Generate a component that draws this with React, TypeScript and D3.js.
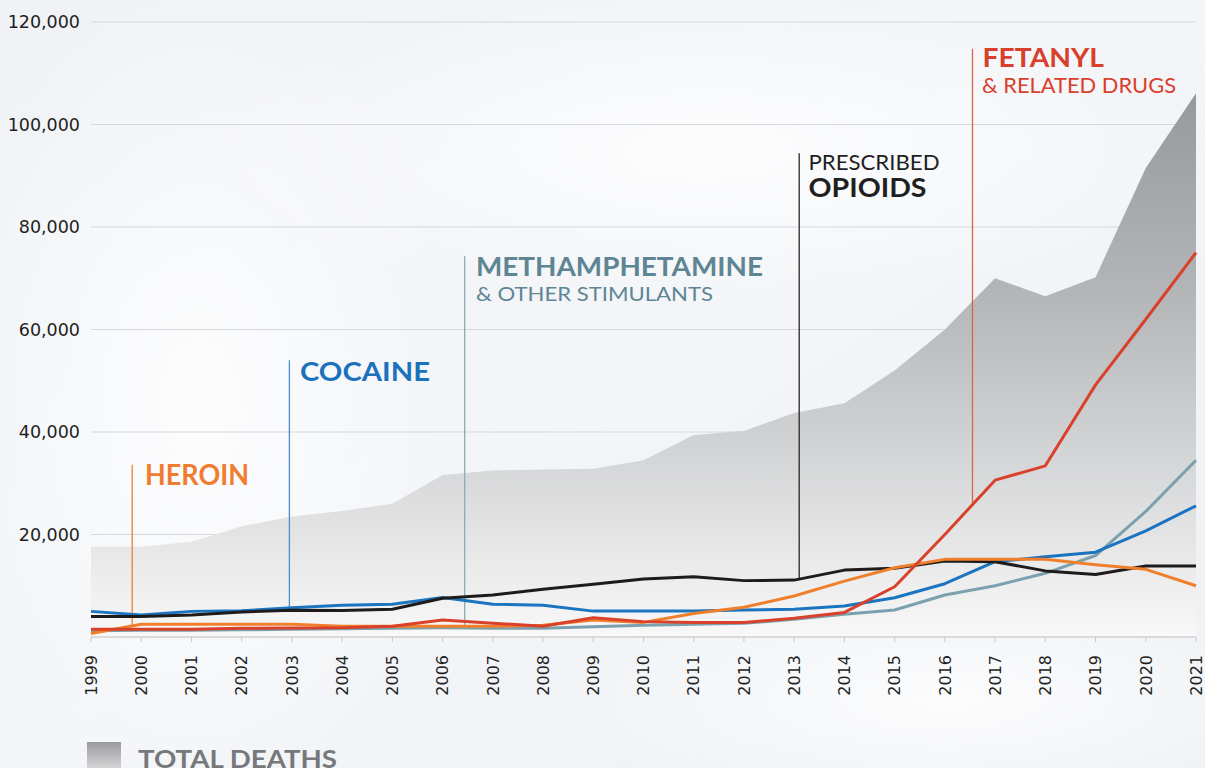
import React from "react";
import * as d3 from "d3";

const years = d3.range(1999, 2022);
const totalDeaths = [17600, 17600, 18600, 21600, 23500, 24600, 26000, 31600, 32500, 32700, 32850, 34500, 39400, 40200, 43700, 45600, 52000, 60000, 70000, 66500, 70200, 91500, 106100];
const cocaine = [5000, 4300, 5000, 5100, 5700, 6200, 6400, 7700, 6400, 6200, 5050, 5050, 5050, 5250, 5400, 6050, 7650, 10400, 14700, 15650, 16550, 20700, 25600];
const opioids = [4000, 4000, 4300, 4900, 5200, 5150, 5400, 7550, 8200, 9300, 10300, 11300, 11750, 11000, 11100, 13050, 13400, 14850, 14700, 12900, 12200, 13850, 13850];
const heroin = [700, 2500, 2500, 2500, 2500, 2100, 2100, 2100, 2100, 2300, 3300, 2850, 4600, 5800, 8000, 10900, 13500, 15150, 15150, 15150, 14100, 13200, 10000];
const fentanyl = [1500, 1500, 1500, 1700, 1750, 1800, 2100, 3300, 2700, 2100, 3750, 3000, 2850, 2850, 3650, 4800, 9800, 20000, 30600, 33400, 49200, 62000, 75000];
const meth = [1200, 1300, 1300, 1400, 1500, 1600, 1700, 1800, 1700, 1700, 2000, 2280, 2480, 2670, 3450, 4430, 5270, 8200, 10000, 12430, 15900, 24500, 34500];
const yTicks = [20000, 40000, 60000, 80000, 100000, 120000];

const series = [
  { name: "meth", values: meth, color: "#7ba1ae" },
  { name: "cocaine", values: cocaine, color: "#1b74bf" },
  { name: "opioids", values: opioids, color: "#1f1b1b" },
  { name: "heroin", values: heroin, color: "#f07f2c" },
  { name: "fentanyl", values: fentanyl, color: "#d9412b" },
];

// annotation: year position of the leader line, top and bottom values
const annYear = [1999.82, 2002.95, 2006.44, 2013.1, 2016.55];
const annTop = [33600, 54000, 74300, 94400, 114800];
const annBottom = [2300, 5850, 1750, 11100, 26150];
const annColor = ["#f07f2c", "#4a8fc9", "#8eaab5", "#2a2626", "#e0604a"];

const W = 1205;
const H = 768;

export default function App() {
  const x = d3.scaleLinear().domain([1999, 2021]).range([91, 1196]);
  const y = d3.scaleLinear().domain([0, 120000]).range([637, 22]);

  const area = d3
    .area<number>()
    .x((_, i) => x(years[i]))
    .y0(y(0))
    .y1((d) => y(d))(totalDeaths) as string;

  const line = d3
    .line<number>()
    .x((_, i) => x(years[i]))
    .y((d) => y(d));

  const labelFont = "Lato, 'Open Sans', sans-serif";
  const tickFont = "'DejaVu Sans', sans-serif";

  return (
    <svg
      width={W}
      height={H}
      style={{ position: "absolute", left: 0, top: 0, display: "block" }}
    >
      <defs>
        <linearGradient id="bg" x1="0" y1="0" x2="1" y2="1">
          <stop offset="0" stopColor="#f0f2f5" />
          <stop offset="0.5" stopColor="#f3f5f8" />
          <stop offset="1" stopColor="#eef0f3" />
        </linearGradient>
        <radialGradient id="glow1" cx="0.5" cy="0.5" r="0.5">
          <stop offset="0" stopColor="#ffffff" stopOpacity="0.8" />
          <stop offset="1" stopColor="#ffffff" stopOpacity="0" />
        </radialGradient>
        <linearGradient id="areaGrad" gradientUnits="userSpaceOnUse" x1="0" y1="90" x2="0" y2="637">
          <stop offset="0" stopColor="#97989b" />
          <stop offset="0.37" stopColor="#b4b5b7" />
          <stop offset="0.7" stopColor="#d7d8d9" />
          <stop offset="0.84" stopColor="#e7e7e8" />
          <stop offset="1" stopColor="#f8f8f8" />
        </linearGradient>
        <linearGradient id="legGrad" x1="0" y1="0" x2="0" y2="1">
          <stop offset="0" stopColor="#9a9b9d" />
          <stop offset="1" stopColor="#dcdcdd" />
        </linearGradient>
      </defs>

      <rect x={0} y={0} width={W} height={H} fill="url(#bg)" />
      <ellipse cx={200} cy={400} rx={260} ry={420} fill="url(#glow1)" />
      <ellipse cx={700} cy={150} rx={500} ry={160} fill="url(#glow1)" />
      <ellipse cx={950} cy={700} rx={400} ry={120} fill="url(#glow1)" />

      {/* grid */}
      {yTicks.map((t) => (
        <line key={t} x1={91} x2={1196} y1={y(t)} y2={y(t)} stroke="#d6d8db" strokeWidth={1.2} />
      ))}

      {/* total deaths area */}
      <path d={area} fill="url(#areaGrad)" />

      {/* baseline axis */}
      <line x1={91} x2={1196} y1={y(0)} y2={y(0)} stroke="#d0d2d5" strokeWidth={1.5} />
      {years.map((yr) => (
        <line key={yr} x1={x(yr)} x2={x(yr)} y1={y(0)} y2={y(0) + 5} stroke="#c8cacd" strokeWidth={1} />
      ))}

      {/* y tick labels */}
      {yTicks.map((t) => (
        <text
          key={t}
          x={80}
          y={y(t)}
          dy="0.36em"
          textAnchor="end"
          fontFamily={tickFont}
          fontSize={17.5}
          fill="#1f1f1f"
        >
          {d3.format(",")(t)}
        </text>
      ))}

      {/* x tick labels */}
      {years.map((yr) => (
        <text
          key={yr}
          transform={`translate(${x(yr)},655) rotate(-90)`}
          dy="0.36em"
          textAnchor="end"
          fontFamily={tickFont}
          fontSize={16}
          fill="#1f1f1f"
        >
          {yr}
        </text>
      ))}

      {/* annotation leader lines */}
      {annYear.map((a, i) => (
        <line
          key={i}
          x1={x(a)}
          x2={x(a)}
          y1={y(annTop[i])}
          y2={y(annBottom[i])}
          stroke={annColor[i]}
          strokeWidth={1.3}
        />
      ))}

      {/* series lines */}
      {series.map((s) => (
        <path
          key={s.name}
          d={line(s.values) as string}
          fill="none"
          stroke={s.color}
          strokeWidth={3}
          strokeLinejoin="round"
        />
      ))}

      {/* labels */}
      <text x={145} y={485} fontFamily={labelFont} fontWeight={700} fontSize={28} fill="#ef7d30" textLength={104} lengthAdjust="spacingAndGlyphs">
        HEROIN
      </text>
      <text x={300} y={381} fontFamily={labelFont} fontWeight={700} fontSize={27} fill="#1a72bd" textLength={130} lengthAdjust="spacingAndGlyphs">
        COCAINE
      </text>
      <text x={476} y={275.5} fontFamily={labelFont} fontWeight={700} fontSize={27} fill="#5d8593" textLength={287} lengthAdjust="spacingAndGlyphs">
        METHAMPHETAMINE
      </text>
      <text x={476} y={301} fontFamily={labelFont} fontWeight={400} fontSize={20} fill="#5d8593" textLength={237} lengthAdjust="spacingAndGlyphs">
        &amp; OTHER STIMULANTS
      </text>
      <text x={808.5} y={170} fontFamily={labelFont} fontWeight={400} fontSize={21} fill="#1f1f1f" textLength={131} lengthAdjust="spacingAndGlyphs">
        PRESCRIBED
      </text>
      <text x={808.5} y={196.7} fontFamily={labelFont} fontWeight={700} fontSize={27} fill="#1f1f1f" textLength={118} lengthAdjust="spacingAndGlyphs">
        OPIOIDS
      </text>
      <text x={982.5} y={67.3} fontFamily={labelFont} fontWeight={700} fontSize={26} fill="#d8402b" textLength={121.5} lengthAdjust="spacingAndGlyphs">
        FETANYL
      </text>
      <text x={982} y={93.3} fontFamily={labelFont} fontWeight={400} fontSize={21} fill="#d8402b" textLength={194} lengthAdjust="spacingAndGlyphs">
        &amp; RELATED DRUGS
      </text>

      {/* legend */}
      <rect x={87} y={742} width={34} height={30} fill="url(#legGrad)" />
      <text x={138} y={768} fontFamily={labelFont} fontWeight={700} fontSize={25} fill="#76787b" textLength={199} lengthAdjust="spacingAndGlyphs">
        TOTAL DEATHS
      </text>
    </svg>
  );
}
